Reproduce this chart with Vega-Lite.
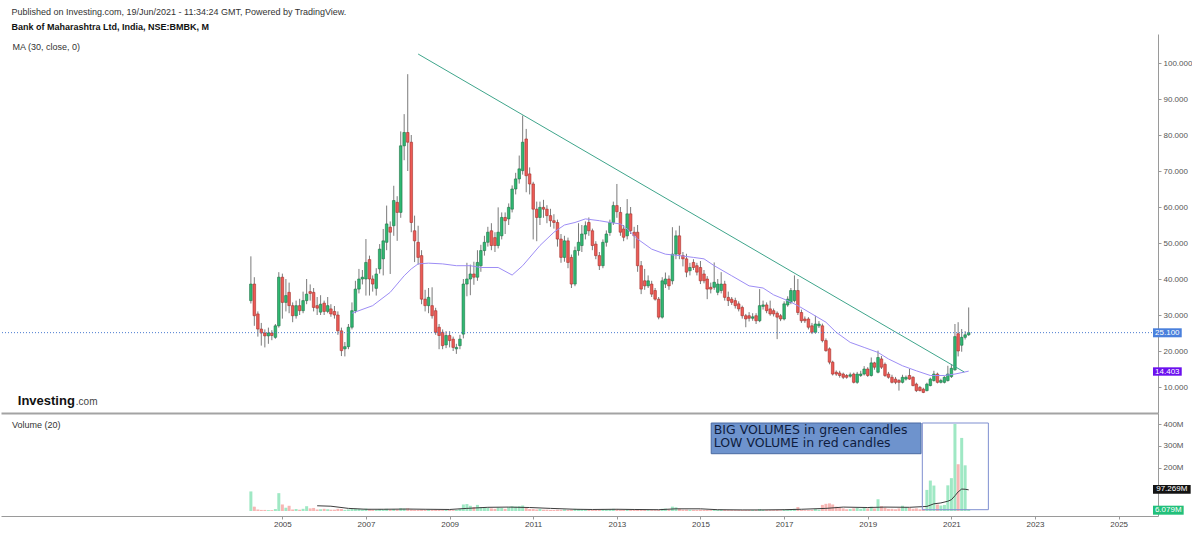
{
"$schema": "https://vega.github.io/schema/vega-lite/v6.json",
"background": "white",
"padding": {"left": 0, "top": 8, "right": 0, "bottom": 0},
"config": {"view": {"stroke": null}, "axis": {"grid": false, "title": null, "labelFont": "Liberation Sans"}},
"title": {"text": "Published on Investing.com, 19/Jun/2021 - 11:34:24 GMT, Powered by TradingView.", "subtitle": "Bank of Maharashtra Ltd, India, NSE:BMBK, M", "anchor": "start", "dx": 11, "offset": 2, "font": "Liberation Sans", "fontSize": 9, "fontWeight": "normal", "color": "#333333", "subtitleFont": "Liberation Sans", "subtitleFontSize": 9, "subtitleFontWeight": "bold", "subtitleColor": "#111111", "subtitlePadding": 6},
"spacing": 0,
"resolve": {"scale": {"x": "independent", "y": "independent"}},
"datasets": {
"candles": [
{"date":"2004-04-01","o":34.0,"h":46.3,"l":33.2,"c":38.6,"v":90},
{"date":"2004-05-01","o":38.6,"h":40.5,"l":27.0,"c":29.8,"v":20},
{"date":"2004-06-01","o":30.3,"h":31.0,"l":24.0,"c":26.1,"v":7},
{"date":"2004-07-01","o":26.1,"h":27.8,"l":21.5,"c":25.0,"v":5},
{"date":"2004-08-01","o":25.0,"h":26.0,"l":21.0,"c":24.2,"v":5},
{"date":"2004-09-01","o":24.2,"h":26.5,"l":22.0,"c":25.0,"v":4},
{"date":"2004-10-01","o":25.0,"h":25.8,"l":23.0,"c":24.3,"v":4},
{"date":"2004-11-01","o":23.8,"h":27.5,"l":23.4,"c":27.0,"v":9},
{"date":"2004-12-01","o":27.0,"h":41.9,"l":26.5,"c":40.5,"v":82},
{"date":"2005-01-01","o":40.5,"h":41.5,"l":29.0,"c":33.5,"v":30},
{"date":"2005-02-01","o":33.5,"h":40.0,"l":31.0,"c":35.4,"v":15},
{"date":"2005-03-01","o":36.3,"h":39.0,"l":30.5,"c":32.6,"v":24},
{"date":"2005-04-01","o":32.6,"h":33.5,"l":28.0,"c":29.8,"v":7},
{"date":"2005-05-01","o":29.8,"h":34.0,"l":29.0,"c":32.6,"v":9},
{"date":"2005-06-01","o":32.6,"h":34.5,"l":30.0,"c":31.2,"v":6},
{"date":"2005-07-01","o":31.2,"h":36.5,"l":30.5,"c":34.0,"v":10},
{"date":"2005-08-01","o":34.0,"h":40.0,"l":33.0,"c":35.8,"v":22},
{"date":"2005-09-01","o":36.5,"h":38.5,"l":34.0,"c":36.0,"v":12},
{"date":"2005-10-01","o":36.3,"h":37.5,"l":31.0,"c":32.1,"v":14},
{"date":"2005-11-01","o":32.6,"h":35.0,"l":30.0,"c":31.9,"v":7},
{"date":"2005-12-01","o":30.8,"h":35.5,"l":30.0,"c":33.0,"v":8},
{"date":"2006-01-01","o":33.3,"h":34.0,"l":30.0,"c":31.0,"v":10},
{"date":"2006-02-01","o":31.0,"h":35.0,"l":30.5,"c":32.6,"v":8},
{"date":"2006-03-01","o":31.7,"h":33.0,"l":29.5,"c":30.3,"v":6},
{"date":"2006-04-01","o":31.0,"h":32.5,"l":29.0,"c":30.0,"v":6},
{"date":"2006-05-01","o":30.0,"h":31.0,"l":24.5,"c":25.6,"v":10},
{"date":"2006-06-01","o":25.6,"h":26.5,"l":18.6,"c":20.1,"v":9},
{"date":"2006-07-01","o":20.6,"h":22.5,"l":18.5,"c":21.2,"v":5},
{"date":"2006-08-01","o":21.2,"h":27.5,"l":20.5,"c":26.6,"v":7},
{"date":"2006-09-01","o":26.6,"h":33.5,"l":26.0,"c":31.2,"v":9},
{"date":"2006-10-01","o":31.2,"h":39.5,"l":30.5,"c":37.2,"v":11},
{"date":"2006-11-01","o":37.2,"h":42.8,"l":36.0,"c":40.0,"v":10},
{"date":"2006-12-01","o":40.0,"h":42.5,"l":38.5,"c":40.5,"v":7},
{"date":"2007-01-01","o":40.0,"h":51.1,"l":35.4,"c":44.6,"v":11},
{"date":"2007-02-01","o":45.4,"h":46.5,"l":35.4,"c":40.0,"v":7},
{"date":"2007-03-01","o":40.0,"h":41.0,"l":36.5,"c":38.6,"v":5},
{"date":"2007-04-01","o":37.4,"h":43.0,"l":35.4,"c":41.4,"v":6},
{"date":"2007-05-01","o":42.8,"h":49.7,"l":41.5,"c":48.3,"v":9},
{"date":"2007-06-01","o":45.6,"h":53.9,"l":41.0,"c":50.6,"v":8},
{"date":"2007-07-01","o":50.2,"h":60.4,"l":48.0,"c":55.3,"v":10},
{"date":"2007-08-01","o":54.4,"h":56.0,"l":41.4,"c":53.0,"v":6},
{"date":"2007-09-01","o":54.8,"h":65.9,"l":52.0,"c":61.8,"v":9},
{"date":"2007-10-01","o":61.3,"h":63.0,"l":50.6,"c":58.5,"v":7},
{"date":"2007-11-01","o":58.5,"h":81.0,"l":57.0,"c":77.0,"v":13},
{"date":"2007-12-01","o":77.0,"h":85.8,"l":73.0,"c":80.7,"v":11},
{"date":"2008-01-01","o":80.7,"h":96.9,"l":70.0,"c":78.0,"v":12},
{"date":"2008-02-01","o":78.0,"h":80.0,"l":53.0,"c":55.7,"v":7},
{"date":"2008-03-01","o":53.4,"h":57.6,"l":44.7,"c":50.6,"v":5},
{"date":"2008-04-01","o":50.2,"h":54.8,"l":44.0,"c":46.0,"v":5},
{"date":"2008-05-01","o":46.5,"h":48.0,"l":33.0,"c":34.4,"v":6},
{"date":"2008-06-01","o":34.4,"h":37.0,"l":31.0,"c":32.6,"v":5},
{"date":"2008-07-01","o":32.6,"h":37.5,"l":30.5,"c":34.9,"v":6},
{"date":"2008-08-01","o":32.6,"h":37.7,"l":29.0,"c":29.8,"v":5},
{"date":"2008-09-01","o":31.2,"h":32.0,"l":24.5,"c":25.2,"v":6},
{"date":"2008-10-01","o":26.6,"h":27.5,"l":20.5,"c":24.3,"v":5},
{"date":"2008-11-01","o":25.2,"h":26.0,"l":20.5,"c":21.5,"v":4},
{"date":"2008-12-01","o":21.7,"h":25.5,"l":20.8,"c":24.3,"v":5},
{"date":"2009-01-01","o":24.3,"h":25.5,"l":21.0,"c":22.9,"v":5},
{"date":"2009-02-01","o":23.3,"h":24.0,"l":20.0,"c":21.0,"v":4},
{"date":"2009-03-01","o":20.6,"h":22.0,"l":19.2,"c":21.0,"v":5},
{"date":"2009-04-01","o":21.5,"h":24.5,"l":20.5,"c":23.3,"v":10},
{"date":"2009-05-01","o":24.7,"h":40.0,"l":23.5,"c":38.6,"v":30},
{"date":"2009-06-01","o":38.6,"h":44.5,"l":35.2,"c":40.0,"v":32},
{"date":"2009-07-01","o":40.0,"h":44.0,"l":35.5,"c":41.4,"v":24},
{"date":"2009-08-01","o":41.4,"h":44.8,"l":38.4,"c":40.5,"v":18},
{"date":"2009-09-01","o":40.5,"h":48.0,"l":39.5,"c":44.6,"v":28},
{"date":"2009-10-01","o":43.7,"h":49.5,"l":42.0,"c":47.9,"v":18},
{"date":"2009-11-01","o":47.9,"h":52.0,"l":46.5,"c":50.2,"v":16},
{"date":"2009-12-01","o":50.2,"h":54.5,"l":49.0,"c":53.0,"v":14},
{"date":"2010-01-01","o":53.4,"h":55.5,"l":48.0,"c":49.3,"v":12},
{"date":"2010-02-01","o":51.5,"h":53.0,"l":47.5,"c":49.3,"v":10},
{"date":"2010-03-01","o":49.3,"h":59.9,"l":48.5,"c":53.0,"v":16},
{"date":"2010-04-01","o":52.0,"h":58.5,"l":51.0,"c":57.1,"v":14},
{"date":"2010-05-01","o":57.1,"h":58.5,"l":52.5,"c":56.2,"v":10},
{"date":"2010-06-01","o":56.7,"h":61.0,"l":55.0,"c":59.9,"v":18},
{"date":"2010-07-01","o":59.4,"h":66.0,"l":58.5,"c":65.0,"v":22},
{"date":"2010-08-01","o":65.0,"h":69.5,"l":63.5,"c":67.8,"v":20},
{"date":"2010-09-01","o":67.8,"h":74.3,"l":66.5,"c":70.6,"v":22},
{"date":"2010-10-01","o":70.1,"h":85.4,"l":69.0,"c":78.0,"v":25},
{"date":"2010-11-01","o":78.9,"h":81.7,"l":64.1,"c":68.7,"v":14},
{"date":"2010-12-01","o":69.2,"h":71.0,"l":63.5,"c":66.4,"v":9},
{"date":"2011-01-01","o":66.4,"h":67.0,"l":51.0,"c":59.4,"v":9},
{"date":"2011-02-01","o":59.4,"h":61.5,"l":50.5,"c":57.1,"v":7},
{"date":"2011-03-01","o":57.1,"h":61.5,"l":55.0,"c":59.9,"v":9},
{"date":"2011-04-01","o":59.9,"h":62.0,"l":57.0,"c":59.4,"v":6},
{"date":"2011-05-01","o":59.4,"h":60.5,"l":55.5,"c":57.6,"v":6},
{"date":"2011-06-01","o":57.6,"h":59.5,"l":54.5,"c":56.2,"v":5},
{"date":"2011-07-01","o":56.2,"h":58.0,"l":54.0,"c":55.7,"v":5},
{"date":"2011-08-01","o":55.7,"h":56.5,"l":49.0,"c":51.1,"v":6},
{"date":"2011-09-01","o":51.1,"h":52.5,"l":44.5,"c":46.0,"v":5},
{"date":"2011-10-01","o":46.0,"h":52.0,"l":44.8,"c":50.6,"v":7},
{"date":"2011-11-01","o":50.6,"h":51.5,"l":43.0,"c":44.6,"v":5},
{"date":"2011-12-01","o":46.0,"h":46.8,"l":37.5,"c":38.6,"v":6},
{"date":"2012-01-01","o":38.6,"h":49.0,"l":38.0,"c":47.9,"v":10},
{"date":"2012-02-01","o":47.9,"h":55.5,"l":46.5,"c":50.2,"v":9},
{"date":"2012-03-01","o":49.3,"h":55.0,"l":47.5,"c":52.5,"v":7},
{"date":"2012-04-01","o":52.5,"h":56.0,"l":51.0,"c":54.8,"v":7},
{"date":"2012-05-01","o":55.7,"h":57.1,"l":52.0,"c":53.4,"v":5},
{"date":"2012-06-01","o":53.4,"h":54.0,"l":48.0,"c":49.3,"v":5},
{"date":"2012-07-01","o":49.7,"h":50.5,"l":45.5,"c":46.5,"v":5},
{"date":"2012-08-01","o":46.5,"h":47.5,"l":42.5,"c":43.7,"v":5},
{"date":"2012-09-01","o":43.7,"h":51.0,"l":43.0,"c":50.2,"v":9},
{"date":"2012-10-01","o":50.2,"h":53.5,"l":49.0,"c":52.5,"v":7},
{"date":"2012-11-01","o":52.9,"h":56.5,"l":52.0,"c":55.7,"v":8},
{"date":"2012-12-01","o":55.7,"h":61.5,"l":55.0,"c":60.4,"v":10},
{"date":"2013-01-01","o":60.4,"h":66.4,"l":57.0,"c":58.7,"v":8},
{"date":"2013-02-01","o":58.5,"h":60.0,"l":52.0,"c":53.0,"v":5},
{"date":"2013-03-01","o":53.9,"h":55.0,"l":50.5,"c":51.6,"v":5},
{"date":"2013-04-01","o":52.0,"h":62.2,"l":51.0,"c":58.1,"v":8},
{"date":"2013-05-01","o":58.1,"h":60.0,"l":52.5,"c":53.4,"v":5},
{"date":"2013-06-01","o":53.0,"h":54.5,"l":48.5,"c":52.0,"v":5},
{"date":"2013-07-01","o":53.0,"h":55.0,"l":42.0,"c":43.7,"v":6},
{"date":"2013-08-01","o":43.7,"h":45.0,"l":35.8,"c":37.2,"v":5},
{"date":"2013-09-01","o":39.5,"h":42.8,"l":37.0,"c":38.1,"v":5},
{"date":"2013-10-01","o":38.1,"h":41.0,"l":37.5,"c":39.5,"v":4},
{"date":"2013-11-01","o":38.6,"h":39.5,"l":35.0,"c":35.8,"v":4},
{"date":"2013-12-01","o":36.8,"h":37.5,"l":34.0,"c":34.4,"v":4},
{"date":"2014-01-01","o":34.4,"h":35.0,"l":28.8,"c":29.4,"v":5},
{"date":"2014-02-01","o":29.4,"h":40.5,"l":29.0,"c":39.5,"v":10},
{"date":"2014-03-01","o":38.6,"h":41.8,"l":37.5,"c":40.0,"v":11},
{"date":"2014-04-01","o":40.0,"h":41.0,"l":37.0,"c":38.1,"v":7},
{"date":"2014-05-01","o":39.5,"h":54.4,"l":38.5,"c":46.9,"v":20},
{"date":"2014-06-01","o":46.9,"h":53.5,"l":45.5,"c":52.0,"v":17},
{"date":"2014-07-01","o":52.0,"h":54.8,"l":45.5,"c":46.9,"v":10},
{"date":"2014-08-01","o":46.5,"h":47.5,"l":43.5,"c":45.6,"v":6},
{"date":"2014-09-01","o":45.6,"h":47.0,"l":40.5,"c":41.9,"v":6},
{"date":"2014-10-01","o":42.3,"h":44.5,"l":41.0,"c":43.2,"v":5},
{"date":"2014-11-01","o":44.6,"h":45.5,"l":42.5,"c":43.2,"v":5},
{"date":"2014-12-01","o":43.7,"h":44.5,"l":41.0,"c":41.9,"v":5},
{"date":"2015-01-01","o":43.2,"h":45.0,"l":38.6,"c":39.5,"v":6},
{"date":"2015-02-01","o":41.4,"h":42.5,"l":38.8,"c":39.5,"v":5},
{"date":"2015-03-01","o":40.0,"h":40.8,"l":34.4,"c":37.2,"v":5},
{"date":"2015-04-01","o":37.7,"h":39.0,"l":36.0,"c":37.2,"v":4},
{"date":"2015-05-01","o":37.7,"h":44.6,"l":37.0,"c":39.1,"v":7},
{"date":"2015-06-01","o":36.3,"h":40.0,"l":35.5,"c":38.6,"v":5},
{"date":"2015-07-01","o":36.8,"h":41.9,"l":36.0,"c":38.6,"v":6},
{"date":"2015-08-01","o":38.6,"h":39.5,"l":34.0,"c":34.9,"v":5},
{"date":"2015-09-01","o":34.9,"h":36.5,"l":32.5,"c":34.0,"v":4},
{"date":"2015-10-01","o":34.4,"h":35.0,"l":32.8,"c":33.5,"v":4},
{"date":"2015-11-01","o":34.0,"h":34.8,"l":31.8,"c":32.6,"v":4},
{"date":"2015-12-01","o":33.1,"h":33.8,"l":31.0,"c":31.7,"v":4},
{"date":"2016-01-01","o":32.1,"h":32.6,"l":29.0,"c":29.8,"v":4},
{"date":"2016-02-01","o":29.8,"h":30.3,"l":26.6,"c":28.9,"v":4},
{"date":"2016-03-01","o":29.8,"h":30.8,"l":28.2,"c":29.1,"v":4},
{"date":"2016-04-01","o":29.1,"h":30.5,"l":28.4,"c":29.5,"v":4},
{"date":"2016-05-01","o":29.8,"h":30.5,"l":27.5,"c":28.4,"v":4},
{"date":"2016-06-01","o":28.4,"h":37.2,"l":28.0,"c":32.6,"v":9},
{"date":"2016-07-01","o":32.4,"h":34.0,"l":31.5,"c":32.8,"v":5},
{"date":"2016-08-01","o":32.8,"h":33.5,"l":30.5,"c":31.2,"v":4},
{"date":"2016-09-01","o":31.7,"h":34.0,"l":29.8,"c":30.3,"v":4},
{"date":"2016-10-01","o":31.2,"h":31.8,"l":29.6,"c":30.3,"v":4},
{"date":"2016-11-01","o":30.5,"h":31.0,"l":23.3,"c":29.4,"v":5},
{"date":"2016-12-01","o":29.8,"h":30.3,"l":28.3,"c":28.9,"v":3},
{"date":"2017-01-01","o":28.9,"h":33.8,"l":28.5,"c":33.1,"v":7},
{"date":"2017-02-01","o":32.8,"h":35.2,"l":32.3,"c":34.4,"v":6},
{"date":"2017-03-01","o":33.5,"h":37.5,"l":33.0,"c":36.8,"v":9},
{"date":"2017-04-01","o":34.0,"h":41.0,"l":33.5,"c":36.8,"v":10},
{"date":"2017-05-01","o":36.8,"h":40.0,"l":30.0,"c":30.7,"v":18},
{"date":"2017-06-01","o":30.7,"h":31.5,"l":27.8,"c":28.4,"v":5},
{"date":"2017-07-01","o":28.9,"h":29.6,"l":27.8,"c":28.4,"v":4},
{"date":"2017-08-01","o":28.9,"h":29.4,"l":26.0,"c":26.6,"v":4},
{"date":"2017-09-01","o":27.0,"h":27.8,"l":24.7,"c":25.2,"v":5},
{"date":"2017-10-01","o":25.2,"h":29.8,"l":24.8,"c":27.5,"v":9},
{"date":"2017-11-01","o":27.0,"h":28.3,"l":26.4,"c":27.5,"v":6},
{"date":"2017-12-01","o":27.0,"h":27.6,"l":22.4,"c":22.9,"v":28},
{"date":"2018-01-01","o":22.9,"h":23.5,"l":19.8,"c":20.1,"v":33},
{"date":"2018-02-01","o":20.6,"h":21.0,"l":16.3,"c":16.9,"v":35},
{"date":"2018-03-01","o":16.9,"h":17.3,"l":13.2,"c":13.6,"v":30},
{"date":"2018-04-01","o":14.1,"h":14.6,"l":13.1,"c":13.6,"v":20},
{"date":"2018-05-01","o":13.9,"h":14.5,"l":12.6,"c":13.2,"v":16},
{"date":"2018-06-01","o":13.6,"h":14.0,"l":12.2,"c":12.7,"v":12},
{"date":"2018-07-01","o":13.2,"h":13.6,"l":12.3,"c":12.7,"v":8},
{"date":"2018-08-01","o":13.0,"h":14.0,"l":12.6,"c":13.4,"v":9},
{"date":"2018-09-01","o":13.6,"h":14.0,"l":11.0,"c":11.3,"v":12},
{"date":"2018-10-01","o":11.3,"h":14.2,"l":10.9,"c":13.6,"v":14},
{"date":"2018-11-01","o":13.2,"h":14.5,"l":12.8,"c":13.6,"v":10},
{"date":"2018-12-01","o":13.6,"h":15.8,"l":13.2,"c":15.0,"v":16},
{"date":"2019-01-01","o":15.0,"h":15.5,"l":12.8,"c":13.2,"v":12},
{"date":"2019-02-01","o":13.2,"h":18.2,"l":12.9,"c":16.7,"v":20},
{"date":"2019-03-01","o":16.7,"h":17.0,"l":14.8,"c":15.5,"v":12},
{"date":"2019-04-01","o":14.1,"h":20.1,"l":13.8,"c":18.2,"v":54},
{"date":"2019-05-01","o":17.8,"h":18.6,"l":15.0,"c":15.5,"v":22},
{"date":"2019-06-01","o":16.3,"h":16.8,"l":12.8,"c":13.2,"v":16},
{"date":"2019-07-01","o":13.6,"h":14.2,"l":12.3,"c":12.7,"v":10},
{"date":"2019-08-01","o":12.7,"h":13.4,"l":11.0,"c":11.3,"v":10},
{"date":"2019-09-01","o":12.2,"h":12.8,"l":10.8,"c":11.3,"v":8},
{"date":"2019-10-01","o":11.8,"h":12.2,"l":9.0,"c":11.3,"v":12},
{"date":"2019-11-01","o":11.3,"h":13.4,"l":11.0,"c":12.7,"v":24},
{"date":"2019-12-01","o":12.2,"h":13.2,"l":11.8,"c":12.7,"v":18},
{"date":"2020-01-01","o":13.2,"h":15.0,"l":12.0,"c":12.2,"v":14},
{"date":"2020-02-01","o":12.7,"h":13.0,"l":10.2,"c":10.4,"v":10},
{"date":"2020-03-01","o":10.8,"h":11.2,"l":8.6,"c":9.0,"v":12},
{"date":"2020-04-01","o":9.9,"h":10.3,"l":8.8,"c":9.0,"v":8},
{"date":"2020-05-01","o":9.4,"h":9.8,"l":8.3,"c":8.5,"v":10},
{"date":"2020-06-01","o":9.0,"h":11.2,"l":8.8,"c":10.8,"v":97},
{"date":"2020-07-01","o":10.4,"h":12.6,"l":10.2,"c":12.2,"v":140},
{"date":"2020-08-01","o":11.8,"h":14.5,"l":11.5,"c":13.6,"v":117},
{"date":"2020-09-01","o":13.6,"h":14.0,"l":11.0,"c":11.3,"v":30},
{"date":"2020-10-01","o":11.3,"h":12.3,"l":11.0,"c":11.8,"v":25},
{"date":"2020-11-01","o":11.3,"h":13.0,"l":11.0,"c":12.7,"v":28},
{"date":"2020-12-01","o":11.8,"h":15.9,"l":11.5,"c":13.6,"v":118},
{"date":"2021-01-01","o":12.9,"h":16.4,"l":12.5,"c":15.2,"v":151},
{"date":"2021-02-01","o":14.8,"h":27.5,"l":14.5,"c":24.0,"v":400},
{"date":"2021-03-01","o":24.8,"h":28.0,"l":18.5,"c":20.0,"v":215},
{"date":"2021-04-01","o":21.6,"h":26.1,"l":19.8,"c":23.8,"v":336},
{"date":"2021-05-01","o":23.8,"h":25.5,"l":23.2,"c":24.5,"v":210},
{"date":"2021-06-01","o":24.5,"h":32.1,"l":24.2,"c":25.1,"v":6.079}
],
"ma": [
{"date":"2006-09-01","ma":30.5},{"date":"2007-03-01","ma":32.6},{"date":"2007-08-01","ma":36.3},{"date":"2007-12-01","ma":40.9},
{"date":"2008-02-01","ma":42.8},{"date":"2008-04-01","ma":44.2},{"date":"2008-07-01","ma":44.4},{"date":"2008-11-01","ma":44.2},
{"date":"2009-03-01","ma":43.7},{"date":"2009-07-01","ma":43.7},{"date":"2009-10-01","ma":43.2},{"date":"2010-03-01","ma":43.2},
{"date":"2010-07-01","ma":41.1},{"date":"2010-10-01","ma":43.7},{"date":"2011-03-01","ma":49.3},{"date":"2011-07-01","ma":53.0},
{"date":"2011-10-01","ma":55.0},{"date":"2012-01-01","ma":55.7},{"date":"2012-04-01","ma":56.7},{"date":"2012-08-01","ma":56.2},
{"date":"2012-11-01","ma":55.7},{"date":"2013-02-01","ma":55.3},{"date":"2013-04-01","ma":53.9},{"date":"2013-07-01","ma":51.1},
{"date":"2013-11-01","ma":48.3},{"date":"2014-03-01","ma":46.9},{"date":"2014-07-01","ma":46.5},{"date":"2014-11-01","ma":46.0},
{"date":"2015-02-01","ma":45.6},{"date":"2015-05-01","ma":43.7},{"date":"2015-10-01","ma":40.9},{"date":"2016-03-01","ma":38.1},
{"date":"2016-07-01","ma":37.5},{"date":"2016-10-01","ma":35.6},{"date":"2017-02-01","ma":34.0},{"date":"2017-05-01","ma":32.6},
{"date":"2017-09-01","ma":30.3},{"date":"2018-01-01","ma":28.0},{"date":"2018-04-01","ma":25.2},{"date":"2018-08-01","ma":22.4},
{"date":"2018-12-01","ma":21.0},{"date":"2019-04-01","ma":19.6},{"date":"2019-07-01","ma":17.8},{"date":"2019-11-01","ma":15.9},
{"date":"2020-03-01","ma":14.5},{"date":"2020-07-01","ma":13.2},{"date":"2020-11-01","ma":13.2},{"date":"2021-02-01","ma":13.6},
{"date":"2021-06-01","ma":14.4}
],
"vma": [
{"date":"2005-11-01","vma":24},{"date":"2006-03-01","vma":22},{"date":"2006-08-01","vma":12},{"date":"2007-01-01","vma":8},
{"date":"2007-06-01","vma":8},{"date":"2008-01-01","vma":9},{"date":"2008-06-01","vma":8},{"date":"2009-01-01","vma":7},
{"date":"2009-06-01","vma":12},{"date":"2009-12-01","vma":17},{"date":"2010-06-01","vma":18},{"date":"2010-12-01","vma":16},
{"date":"2011-06-01","vma":12},{"date":"2012-01-01","vma":8},{"date":"2012-06-01","vma":7},{"date":"2013-01-01","vma":8},
{"date":"2013-06-01","vma":7},{"date":"2014-01-01","vma":6},{"date":"2014-06-01","vma":10},{"date":"2015-01-01","vma":10},
{"date":"2015-06-01","vma":6},{"date":"2016-01-01","vma":5},{"date":"2016-06-01","vma":5},{"date":"2017-01-01","vma":6},
{"date":"2017-06-01","vma":8},{"date":"2018-01-01","vma":12},{"date":"2018-06-01","vma":18},{"date":"2019-01-01","vma":16},
{"date":"2019-06-01","vma":18},{"date":"2020-01-01","vma":17},{"date":"2020-06-01","vma":21},{"date":"2020-08-01","vma":33},
{"date":"2020-10-01","vma":37},{"date":"2020-12-01","vma":45},{"date":"2021-01-01","vma":52},{"date":"2021-02-01","vma":70},
{"date":"2021-03-01","vma":88},{"date":"2021-04-01","vma":101},{"date":"2021-05-01","vma":100},{"date":"2021-06-01","vma":97.3}
],
"trend": [{"date":"2008-04-01","p":102.5},{"date":"2021-04-23","p":14.17}]
},
"vconcat": [
{
"width": 1157, "height": 379,
"title": {"text": "MA (30, close, 0)", "anchor": "start", "orient": "top", "offset": -18, "dx": 12, "font": "Liberation Sans", "fontSize": 9, "fontWeight": "normal", "color": "#333333"},
"layer": [
{"data": {"name": "candles"}, "mark": {"type": "rule", "color": "#7b7b7b", "strokeWidth": 1},
 "encoding": {
  "x": {"field": "date", "type": "temporal", "scale": {"type": "utc", "domain": [{"year": 1998, "month": 5, "date": 24, "utc": true}, {"year": 2025, "month": 10, "date": 28, "utc": true}]}, "axis": {"labels": false, "ticks": false, "domainColor": "#a3a3a3", "domainWidth": 2, "title": null}},
  "y": {"field": "l", "type": "quantitative", "scale": {"domain": [2.78, 108.06], "zero": false, "nice": false}, "axis": {"orient": "right", "values": [10,20,30,40,50,60,70,80,90,100], "format": ".3f", "labelFontSize": 8, "labelColor": "#555555", "tickSize": 3, "tickColor": "#9a9a9a", "domainColor": "#9a9a9a", "labelPadding": 2, "title": null}},
  "y2": {"field": "h"}
 }},
{"data": {"name": "candles"}, "mark": {"type": "bar", "width": 2.6, "strokeWidth": 0.6},
 "encoding": {
  "x": {"field": "date", "type": "temporal"},
  "y": {"field": "o", "type": "quantitative"},
  "y2": {"field": "c"},
  "fill": {"condition": {"test": "datum.c >= datum.o", "value": "#2fb872"}, "value": "#ec5b56"},
  "stroke": {"condition": {"test": "datum.c >= datum.o", "value": "#1f7347"}, "value": "#a5302c"}
 }},
{"data": {"name": "ma"}, "mark": {"type": "line", "color": "#9d8df5", "strokeWidth": 1},
 "encoding": {"x": {"field": "date", "type": "temporal"}, "y": {"field": "ma", "type": "quantitative"}}},
{"data": {"name": "trend"}, "mark": {"type": "line", "color": "#3fa58b", "strokeWidth": 1},
 "encoding": {"x": {"field": "date", "type": "temporal"}, "y": {"field": "p", "type": "quantitative"}}},
{"data": {"values": [{}]}, "mark": {"type": "rule", "color": "#4a7bd0", "strokeWidth": 1, "strokeDash": [1, 2]},
 "encoding": {"y": {"datum": 25.1, "type": "quantitative"}}},
{"data": {"values": [{}]}, "mark": {"type": "rect", "color": "#4a80dc"},
 "encoding": {"x": {"datum": {"year": 2025, "month": 10, "date": 28, "utc": true}, "type": "temporal"}, "x2": {"datum": {"year": 2026, "month": 7, "date": 6, "utc": true}}, "y": {"datum": 26.31, "type": "quantitative"}, "y2": {"datum": 23.81}}},
{"data": {"values": [{}]}, "mark": {"type": "text", "text": "25.100", "color": "white", "font": "Liberation Sans", "fontSize": 8, "align": "center", "baseline": "middle"},
 "encoding": {"x": {"datum": {"year": 2026, "month": 3, "date": 2, "utc": true}, "type": "temporal"}, "y": {"datum": 25.06, "type": "quantitative"}}},
{"data": {"values": [{}]}, "mark": {"type": "rect", "color": "#6b10ee"},
 "encoding": {"x": {"datum": {"year": 2025, "month": 10, "date": 28, "utc": true}, "type": "temporal"}, "x2": {"datum": {"year": 2026, "month": 7, "date": 6, "utc": true}}, "y": {"datum": 15.47, "type": "quantitative"}, "y2": {"datum": 13.14}}},
{"data": {"values": [{}]}, "mark": {"type": "text", "text": "14.403", "color": "white", "font": "Liberation Sans", "fontSize": 8, "align": "center", "baseline": "middle"},
 "encoding": {"x": {"datum": {"year": 2026, "month": 3, "date": 2, "utc": true}, "type": "temporal"}, "y": {"datum": 14.3, "type": "quantitative"}}},
{"data": {"values": [{}]}, "mark": {"type": "text", "text": "Investing", "color": "#111111", "font": "Liberation Sans", "fontSize": 13, "fontWeight": "bold", "align": "left", "baseline": "alphabetic"},
 "encoding": {"x": {"datum": {"year": 1998, "month": 9, "date": 4, "utc": true}, "type": "temporal"}, "y": {"datum": 5.0, "type": "quantitative"}}},
{"data": {"values": [{}]}, "mark": {"type": "text", "text": ".com", "color": "#444444", "font": "Liberation Sans", "fontSize": 10, "align": "left", "baseline": "alphabetic"},
 "encoding": {"x": {"datum": {"year": 2000, "month": 1, "date": 24, "utc": true}, "type": "temporal"}, "y": {"datum": 5.0, "type": "quantitative"}}}
]
},
{
"width": 1157, "height": 103,
"title": {"text": "Volume (20)", "anchor": "start", "orient": "top", "offset": -17, "dx": 11, "font": "Liberation Sans", "fontSize": 9, "fontWeight": "normal", "color": "#333333"},
"layer": [
{"data": {"name": "candles"}, "mark": {"type": "bar", "width": 3},
 "encoding": {
  "x": {"field": "date", "type": "temporal", "scale": {"type": "utc", "domain": [{"year": 1998, "month": 5, "date": 24, "utc": true}, {"year": 2025, "month": 10, "date": 28, "utc": true}]}, "axis": {"values": [{"year": 2005, "month": 1, "date": 1, "utc": true}, {"year": 2007, "month": 1, "date": 1, "utc": true}, {"year": 2009, "month": 1, "date": 1, "utc": true}, {"year": 2011, "month": 1, "date": 1, "utc": true}, {"year": 2013, "month": 1, "date": 1, "utc": true}, {"year": 2015, "month": 1, "date": 1, "utc": true}, {"year": 2017, "month": 1, "date": 1, "utc": true}, {"year": 2019, "month": 1, "date": 1, "utc": true}, {"year": 2021, "month": 1, "date": 1, "utc": true}, {"year": 2023, "month": 1, "date": 1, "utc": true}, {"year": 2025, "month": 1, "date": 1, "utc": true}], "format": "%Y", "labelFontSize": 8, "labelColor": "#444444", "tickSize": 3, "tickColor": "#9a9a9a", "domainColor": "#9a9a9a", "labelPadding": 1, "title": null}},
  "y": {"field": "v", "type": "quantitative", "scale": {"domain": [-23, 450.6], "zero": false, "nice": false}, "axis": {"orient": "right", "values": [200, 300, 400], "labelExpr": "datum.value + 'M'", "labelFontSize": 8, "labelColor": "#555555", "tickSize": 3, "tickColor": "#9a9a9a", "domainColor": "#9a9a9a", "labelPadding": 2, "title": null}},
  "y2": {"datum": 0},
  "fill": {"condition": {"test": "datum.c >= datum.o", "value": "#9fe8c4"}, "value": "#f7b6b4"}
 }},
{"data": {"name": "vma"}, "mark": {"type": "line", "color": "#3d3d3d", "strokeWidth": 1},
 "encoding": {"x": {"field": "date", "type": "temporal"}, "y": {"field": "vma", "type": "quantitative"}}},
{"data": {"values": [{}]}, "mark": {"type": "rect", "fill": "#6e93cd", "stroke": "#4a6aa3", "strokeWidth": 1},
 "encoding": {"x": {"datum": {"year": 2015, "month": 4, "date": 5, "utc": true}, "type": "temporal"}, "x2": {"datum": {"year": 2020, "month": 4, "date": 11, "utc": true}}, "y": {"datum": 404.6, "type": "quantitative"}, "y2": {"datum": 263.4}}},
{"data": {"values": [{}]}, "mark": {"type": "text", "text": ["BIG VOLUMES in green candles", "LOW VOLUME in red candles"], "color": "#0f1d3f", "font": "DejaVu Sans", "fontSize": 12.5, "lineHeight": 13, "align": "left", "baseline": "top"},
 "encoding": {"x": {"datum": {"year": 2015, "month": 4, "date": 27, "utc": true}, "type": "temporal"}, "y": {"datum": 400, "type": "quantitative"}}},
{"data": {"values": [{}]}, "mark": {"type": "rect", "fill": "white", "fillOpacity": 0, "stroke": "#7f8fd0", "strokeWidth": 1},
 "encoding": {"x": {"datum": {"year": 2020, "month": 4, "date": 22, "utc": true}, "type": "temporal"}, "x2": {"datum": {"year": 2021, "month": 11, "date": 20, "utc": true}}, "y": {"datum": 404.6, "type": "quantitative"}, "y2": {"datum": 6}}},
{"data": {"values": [{}]}, "mark": {"type": "rect", "color": "#131313"},
 "encoding": {"x": {"datum": {"year": 2025, "month": 10, "date": 28, "utc": true}, "type": "temporal"}, "x2": {"datum": {"year": 2026, "month": 9, "date": 22, "utc": true}}, "y": {"datum": 119.5, "type": "quantitative"}, "y2": {"datum": 79.5}}},
{"data": {"values": [{}]}, "mark": {"type": "text", "text": "97.269M", "color": "white", "font": "Liberation Sans", "fontSize": 8, "align": "center", "baseline": "middle"},
 "encoding": {"x": {"datum": {"year": 2026, "month": 4, "date": 10, "utc": true}, "type": "temporal"}, "y": {"datum": 99.5, "type": "quantitative"}}},
{"data": {"values": [{}]}, "mark": {"type": "rect", "color": "#22c07a"},
 "encoding": {"x": {"datum": {"year": 2025, "month": 10, "date": 28, "utc": true}, "type": "temporal"}, "x2": {"datum": {"year": 2026, "month": 7, "date": 23, "utc": true}}, "y": {"datum": 24.4, "type": "quantitative"}, "y2": {"datum": -17}}},
{"data": {"values": [{}]}, "mark": {"type": "text", "text": "6.079M", "color": "white", "font": "Liberation Sans", "fontSize": 8, "align": "center", "baseline": "middle"},
 "encoding": {"x": {"datum": {"year": 2026, "month": 3, "date": 10, "utc": true}, "type": "temporal"}, "y": {"datum": 3.7, "type": "quantitative"}}}
]
}
]
}
